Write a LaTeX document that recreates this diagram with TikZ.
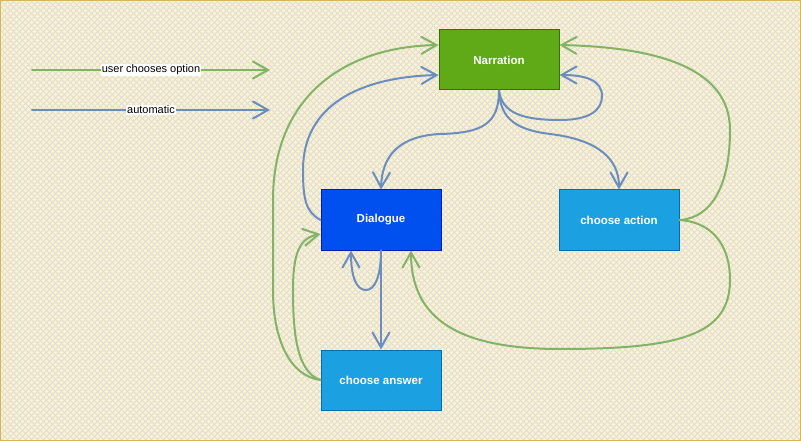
\documentclass[tikz,border=0pt]{standalone}
\usepackage{fontspec}
\setmainfont{Liberation Sans}
\usetikzlibrary{arrows.meta,calc}
\definecolor{bgcream}{HTML}{FFF2CC}
\definecolor{bgborder}{HTML}{D6B656}
\definecolor{hatchc}{HTML}{DADDDC}
\definecolor{usergreen}{HTML}{82B366}
\definecolor{autoblue}{HTML}{6C8EBF}
\definecolor{narfill}{HTML}{60A917}
\definecolor{narline}{HTML}{2D7600}
\definecolor{diafill}{HTML}{0050EF}
\definecolor{dialine}{HTML}{001DBC}
\definecolor{chfill}{HTML}{1BA1E2}
\definecolor{chline}{HTML}{006EAF}
\tikzset{
  box/.style={rectangle, minimum width=120pt, minimum height=60pt, line width=1pt,
    text=white, font=\bfseries\fontsize{11.5}{13}\selectfont, inner sep=0pt},
  narbox/.style={box, fill=narfill, draw=narline},
  diabox/.style={box, fill=diafill, draw=dialine},
  chbox/.style={box, fill=chfill, draw=chline},
  openarr/.style={-{Straight Barb[length=15pt,width=17pt,line cap=round]}},
  userlink/.style={openarr, draw=usergreen, line width=2pt, line cap=round},
  autolink/.style={openarr, draw=autoblue, line width=2pt, line cap=round},
  legendlbl/.style={fill=white, inner sep=1pt, text=black, font=\fontsize{11}{13}\selectfont}
}
\begin{document}
\begin{tikzpicture}[x=1pt,y=-1pt]
\useasboundingbox (0,0) rectangle (801,441);
% background
\fill[bgcream] (0,0) rectangle (801,441);
\begin{scope}
\clip (0,0) rectangle (801,441);
\foreach \i in {-444,-438,...,804} {
  \draw[hatchc, line width=0.9pt] (\i,0) -- ++(441,441);
  \draw[hatchc, line width=0.9pt] (\i,441) -- ++(441,-441);
}
\end{scope}
\draw[bgborder, line width=1pt] (0.5,0.5) rectangle (800.5,440.5);

% legend
\coordinate (ga) at (32,70);
\coordinate (gb) at (270,70);
\coordinate (ba) at (32,110);
\coordinate (bb) at (270,110);
\draw[userlink] (ga) -- node[legendlbl] (gl) {user chooses option} (gb);
\draw[autolink] (ba) -- node[legendlbl] (bl) {automatic} (bb);

% nodes
\node[narbox] (nar) at (499,60) {Narration};
\node[diabox] (dia) at (381,220) {Dialogue};
\node[chbox] (act) at (619,220) {choose action};
\node[chbox] (ans) at (381,380) {choose answer};

% user chooses option (green)
\draw[userlink] (ans.west) .. controls (290,376) and (273,340) .. (273,290)
  -- (273,200) .. controls (273,100) and (340,47) .. ([yshift=15pt]nar.west);
\draw[userlink] (ans.west) .. controls (296,372) and (293,330) .. (293,290)
  .. controls (293,252) and (300,238) .. ([yshift=-14pt]dia.west);
\draw[userlink] (act.east) .. controls (712,218) and (730,185) .. (730,130)
  .. controls (730,65) and (650,47) .. ([yshift=15pt]nar.east);
\draw[userlink] (act.east) .. controls (712,222) and (730,245) .. (730,280)
  .. controls (730,335) and (680,349) .. (560,349)
  .. controls (460,349) and (411,320) .. ([xshift=30pt]dia.south);

% automatic (blue)
\draw[autolink] (dia.west) .. controls (306,212) and (303,200) .. (303,170)
  .. controls (303,105) and (360,77) .. ([yshift=-15pt]nar.west);
\draw[autolink] (nar.south) .. controls (499,124) and (482,133) .. (440,134)
  .. controls (400,136) and (382,155) .. (dia.north);
\draw[autolink] (nar.south) .. controls (502,112) and (520,120) .. (560,120)
  .. controls (590,120) and (602,110) .. (602,96)
  .. controls (602,80) and (585,75) .. ([yshift=-15pt]nar.east);
\draw[autolink] (nar.south) .. controls (500,120) and (518,130) .. (550,134)
  .. controls (600,140) and (619,160) .. (act.north);
\draw[autolink] (dia.south) -- (ans.north);
\draw[autolink] (dia.south) .. controls (381,276) and (375,290) .. (366,290)
  .. controls (356,290) and (351,276) .. ([xshift=-30pt]dia.south);
\end{tikzpicture}
\end{document}
